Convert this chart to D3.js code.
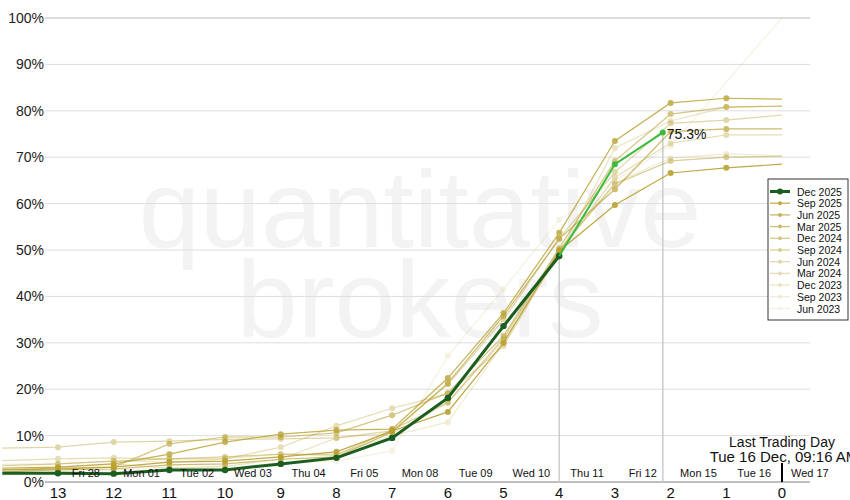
<!DOCTYPE html>
<html><head><meta charset="utf-8">
<script src="https://cdn.jsdelivr.net/npm/d3@7"></script>
<style>body{margin:0;background:#fff}svg{display:block;font-family:"Liberation Sans",Arial,sans-serif}</style>
</head><body><svg id="c" width="850" height="500"></svg>
<script>
const days = [14,13,12,11,10,9,8,7,6,5,4,3,2,1,0];
const seriesNames = ["Sep 2025","Jun 2025","Mar 2025","Dec 2024","Sep 2024","Jun 2024","Mar 2024","Dec 2023","Sep 2023","Jun 2023"];
const sep2025 = [2.6,2.8,3.2,4.3,4.5,5.4,6.5,11.0,15.1,30.0,49.8,59.7,66.6,67.7,68.5];
const jun2025 = [3.0,3.2,3.9,6.0,8.6,10.3,11.2,11.4,22.4,36.4,53.7,73.5,81.7,82.7,82.5];
const mar2025 = [2.2,2.6,2.8,3.7,3.9,4.9,5.4,10.8,21.3,35.8,52.4,63.1,75.5,76.1,76.1];
const dec2024 = [2.6,3.0,3.2,8.2,9.7,9.7,10.6,14.4,19.2,31.5,50.4,69.2,79.3,80.8,81.0];
const sep2024 = [3.5,3.9,4.5,5.0,5.4,6.0,5.8,11.2,17.2,31.0,50.0,64.2,69.2,70.0,70.2];
const jun2024 = [7.3,7.5,8.6,8.8,9.2,9.3,9.5,11.0,21.0,35.0,52.5,66.8,77.3,78.0,79.1];
const mar2024 = [4.6,5.0,5.2,5.0,5.0,7.5,12.1,15.9,19.0,29.3,49.5,65.7,73.0,74.8,74.8];
const dec2023 = [2.0,3.2,3.9,3.0,3.4,4.9,9.5,10.5,17.0,30.5,49.0,72.0,77.8,80.8,81.0];
const sep2023 = [3.8,3.9,4.5,4.3,5.0,6.0,6.0,10.0,12.9,29.8,50.0,64.5,69.8,70.7,70.3];
const jun2023 = [1.5,2.2,2.6,2.9,3.2,4.0,4.5,6.7,27.2,41.6,56.5,65.0,72.4,86.2,100.0];
const seriesOpacity = [0.9,0.8,0.7,0.6,0.5,0.42,0.35,0.28,0.2,0.13];
const currentName = "Dec 2025";
const currentDays = [14,13,12,11,10,9,8,7,6,5,4];
const currentValues = [1.9,1.9,1.8,2.6,2.6,3.9,5.2,9.5,18.1,33.6,48.7];
const liveDays = [4,3,2.14];
const liveValues = [48.7,68.5,75.3];
const yTicks = [0,10,20,30,40,50,60,70,80,90,100];
const xTicks = [13,12,11,10,9,8,7,6,5,4,3,2,1,0];
const dateLabels = ["Fri 28","Mon 01","Tue 02","Wed 03","Thu 04","Fri 05","Mon 08","Tue 09","Wed 10","Thu 11","Fri 12","Mon 15","Tue 16","Wed 17"];
const lastTradingText = ["Last Trading Day","Tue 16 Dec, 09:16 AM"];

const allValues = [sep2025,jun2025,mar2025,dec2024,sep2024,jun2024,mar2024,dec2023,sep2023,jun2023];
const gold = "#b8a02e";
const svg = d3.select("#c");
const x = d3.scaleLinear().domain([13,0]).range([58,782]);
const y = d3.scaleLinear().domain([0,100]).range([482,18]);
const L = 45, R = 810;

// watermark
svg.append("text").attr("x",420).attr("y",247).attr("text-anchor","middle").attr("font-size",110).attr("fill","#f3f3f3").text("quantitative");
svg.append("text").attr("x",420).attr("y",337).attr("text-anchor","middle").attr("font-size",110).attr("fill","#f3f3f3").text("brokers");

// grid
svg.append("g").selectAll("line").data(yTicks.filter(d=>d>0)).join("line")
  .attr("x1",L).attr("x2",R).attr("y1",d=>y(d)).attr("y2",d=>y(d))
  .attr("stroke",d=>d===100?"#bbb":"#ddd").attr("stroke-width",1);
svg.append("line").attr("x1",L).attr("x2",R).attr("y1",y(0)).attr("y2",y(0)).attr("stroke","#aaa").attr("stroke-width",1.5);

// y labels
svg.append("g").selectAll("text").data(yTicks).join("text")
  .attr("x",44).attr("y",d=>y(d)+5).attr("text-anchor","end").attr("font-size",14).attr("fill","#222")
  .text(d=>d+"%");

// drop lines
svg.append("line").attr("x1",x(4)).attr("x2",x(4)).attr("y1",y(currentValues[currentValues.length-1])).attr("y2",y(0)).attr("stroke","#ccc").attr("stroke-width",1.5);
svg.append("line").attr("x1",x(liveDays[2])).attr("x2",x(liveDays[2])).attr("y1",y(liveValues[2])).attr("y2",y(0)).attr("stroke","#ccc").attr("stroke-width",1.5);

const line = d3.line().x(d=>x(d[0])).y(d=>y(d[1]));

// historical series (draw faintest first)
for (let i = allValues.length-1; i >= 0; i--) {
  const pts = days.map((d,j)=>[d,allValues[i][j]]);
  const g = svg.append("g").attr("opacity",seriesOpacity[i]);
  g.append("path").attr("d",line(pts)).attr("fill","none").attr("stroke",gold).attr("stroke-width",1.2);
  const marked = i === allValues.length-1 ? pts.filter(p=>p[0]>1 && p[0]<14) : pts.filter(p=>p[0]>0 && p[0]<14);
  g.selectAll("circle").data(marked).join("circle")
    .attr("cx",p=>x(p[0])).attr("cy",p=>y(p[1])).attr("r",3).attr("fill",gold);
}

// current series
const cur = currentDays.map((d,j)=>[d,currentValues[j]]);
svg.append("path").attr("d",line(cur)).attr("fill","none").attr("stroke","#1b5e20").attr("stroke-width",3);
svg.append("g").selectAll("circle").data(cur.filter(p=>p[0]<14)).join("circle")
  .attr("cx",p=>x(p[0])).attr("cy",p=>y(p[1])).attr("r",3.2).attr("fill","#1b5e20");
const live = liveDays.map((d,j)=>[d,liveValues[j]]);
svg.append("path").attr("d",line(live)).attr("fill","none").attr("stroke","#3dbb3d").attr("stroke-width",2);
svg.append("g").selectAll("circle").data(live.slice(1)).join("circle")
  .attr("cx",p=>x(p[0])).attr("cy",p=>y(p[1])).attr("r",3).attr("fill","#3dbb3d");
svg.append("text").attr("x",x(liveDays[2])+4).attr("y",y(liveValues[2])+6).attr("font-size",14).attr("fill","#111").text(liveValues[2].toFixed(1)+"%");

// date labels
svg.append("g").selectAll("text").data(dateLabels).join("text")
  .attr("x",(d,i)=>x(12.5-i)).attr("y",477).attr("text-anchor","middle").attr("font-size",11).attr("fill","#111").text(d=>d);
// x ticks
svg.append("g").selectAll("text").data(xTicks).join("text")
  .attr("x",d=>x(d)).attr("y",498).attr("text-anchor","middle").attr("font-size",15).attr("fill","#111").text(d=>d);

// last trading day
svg.append("line").attr("x1",x(0)).attr("x2",x(0)).attr("y1",463).attr("y2",482).attr("stroke","#000").attr("stroke-width",2);
svg.append("g").selectAll("text").data(lastTradingText).join("text")
  .attr("x",(d,i)=>x(0)+(i?2:0)).attr("y",(d,i)=>447+i*15).attr("text-anchor","middle").attr("font-size",(d,i)=>i?15:14).attr("fill","#111").text(d=>d);

// legend
const lg = svg.append("g");
lg.append("rect").attr("x",768).attr("y",179).attr("width",80).attr("height",141).attr("fill","#fff").attr("stroke","#333").attr("stroke-width",1);
const legendItems = [{name:currentName,color:"#1b5e20",op:1,w:3}].concat(seriesNames.map((n,i)=>({name:n,color:gold,op:seriesOpacity[i],w:1.2})));
legendItems.forEach((it,i)=>{
  const yy = 191.5 + i*11.7;
  const g = lg.append("g").attr("opacity",it.op);
  g.append("line").attr("x1",770).attr("x2",790).attr("y1",yy).attr("y2",yy).attr("stroke",it.color).attr("stroke-width",it.w);
  g.append("circle").attr("cx",780).attr("cy",yy).attr("r",i===0?3:2).attr("fill",it.color);
  lg.append("text").attr("x",797).attr("y",yy+4).attr("font-size",10.5).attr("fill","#111").text(it.name);
});
</script></body></html>
